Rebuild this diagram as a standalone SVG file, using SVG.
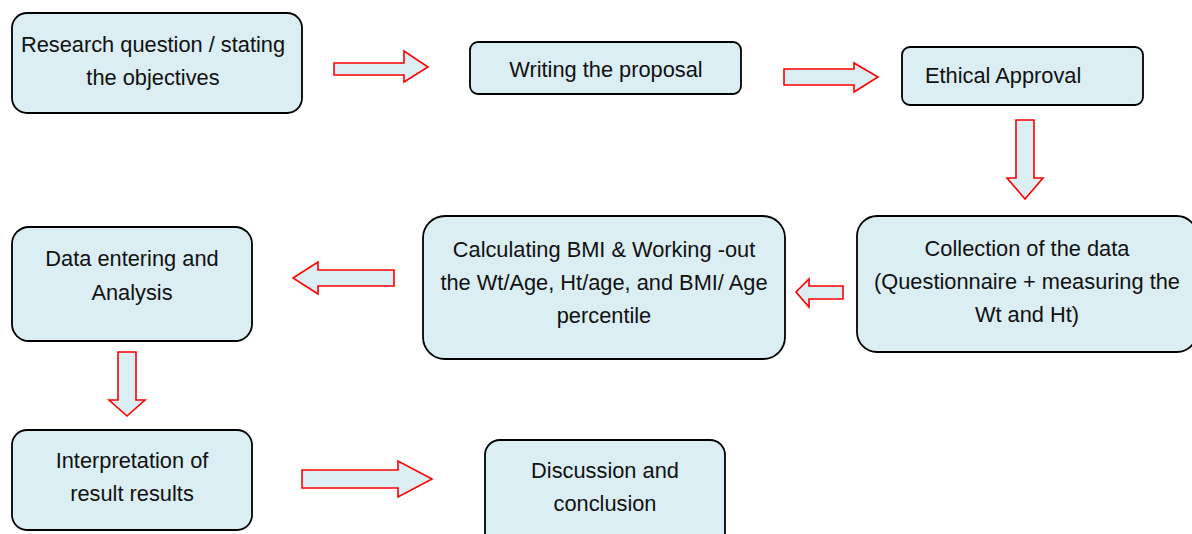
<svg xmlns="http://www.w3.org/2000/svg" width="1192" height="534" viewBox="0 0 1192 534">
<style>
.box{fill:#DAEEF3;stroke:#000;stroke-width:1.8}
.arr{fill:#DAEEF3;stroke:#FF0000;stroke-width:1.6;stroke-linejoin:miter}
text{font-family:"Liberation Sans",Arial,sans-serif;font-size:21.8px;fill:#111}
.c{text-anchor:middle}
</style>
<rect width="1192" height="534" fill="#fff"/>
<g id="n1"><rect class="box" x="12" y="13" width="290" height="100" rx="15"/>
<text class="c" x="153" y="52">Research question / stating</text>
<text class="c" x="153" y="85">the objectives</text></g>
<g id="n2"><rect class="box" x="470" y="42" width="271" height="52" rx="8"/>
<text class="c" x="606" y="77">Writing the proposal</text></g>
<g id="n3"><rect class="box" x="902" y="47" width="241" height="58" rx="8"/>
<text x="925" y="83">Ethical Approval</text></g>
<g id="n4"><rect class="box" x="857" y="216" width="340" height="136" rx="20"/>
<text class="c" x="1027" y="256">Collection of the data</text>
<text class="c" x="1027" y="289">(Questionnaire + measuring the</text>
<text class="c" x="1027" y="322">Wt and Ht)</text></g>
<g id="n5"><rect class="box" x="423" y="216" width="362" height="143" rx="22"/>
<text class="c" x="604" y="257">Calculating BMI &amp; Working -out</text>
<text class="c" x="604" y="290">the Wt/Age, Ht/age, and BMI/ Age</text>
<text class="c" x="604" y="323">percentile</text></g>
<g id="n6"><rect class="box" x="12" y="227" width="240" height="114" rx="17"/>
<text class="c" x="132" y="266">Data entering and</text>
<text class="c" x="132" y="300">Analysis</text></g>
<g id="n7"><rect class="box" x="12" y="430" width="240" height="100" rx="15"/>
<text class="c" x="132" y="468">Interpretation of</text>
<text class="c" x="132" y="501">result results</text></g>
<g id="n8"><rect class="box" x="485" y="440" width="240" height="110" rx="15"/>
<text class="c" x="605" y="478">Discussion and</text>
<text class="c" x="605" y="511">conclusion</text></g>
<g id="connectors">
<polygon class="arr" points="334,63 404,63 404,51 428,67 404,82 404,75 334,75"/>
<polygon class="arr" points="784,69 854,69 854,63 878,77 854,92 854,85 784,85"/>
<polygon class="arr" points="1016,120 1034,120 1034,178 1043,178 1025,199 1007,178 1016,178"/>
<polygon class="arr" points="843,286 809,286 809,279 796,292 809,307 809,299 843,299"/>
<polygon class="arr" points="394,270 318,270 318,262 293,278 318,294 318,286 394,286"/>
<polygon class="arr" points="118,352 136,352 136,400 145,400 127,416 109,400 118,400"/>
<polygon class="arr" points="302,470 398,470 398,461 432,479 398,497 398,488 302,488"/>
</g>
</svg>
